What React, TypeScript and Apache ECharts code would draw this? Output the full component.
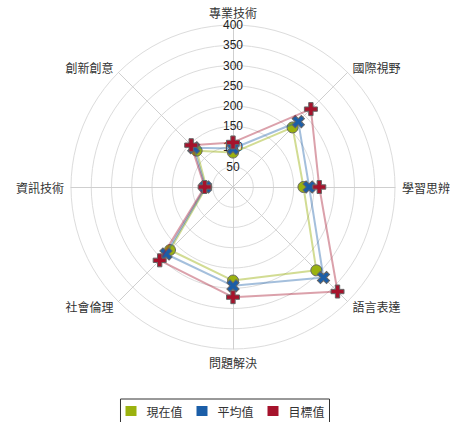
import React, { useEffect, useRef } from 'react';
import * as echarts from 'echarts';

// Indicators listed in ECharts' radar order (top, then counter-clockwise)
const categories = ['專業技術', '創新創意', '資訊技術', '社會倫理', '問題解決', '語言表達', '學習思辨', '國際視野'];
const seriesNames = ['現在值', '平均值', '目標值'];
const currentValues = [85, 127, 66, 220, 231, 291, 174, 208];
const averageValues = [95, 137, 68, 234, 244, 316, 188, 228];
const targetValues = [110, 146, 70, 256, 272, 365, 213, 272];
const radialMax = 400;
const radialSplits = 8;

const colors = ['#9bb20f', '#1b5ea8', '#a6132c'];
const lineColors = ['rgba(155,178,15,0.45)', 'rgba(27,94,168,0.4)', 'rgba(166,19,44,0.4)'];
const plusPath = 'path://M4,0L8,0L8,4L12,4L12,8L8,8L8,12L4,12L4,8L0,8L0,4L4,4Z';
const symbols = ['circle', plusPath, plusPath];
const symbolRotates = [0, 45, 0];
const symbolSizes = [11, 13, 13];

export default function App() {
  const ref = useRef<HTMLDivElement>(null);
  useEffect(() => {
    if (!ref.current) return;
    const chart = echarts.init(ref.current, null, { renderer: 'svg' });
    const allValues = [currentValues, averageValues, targetValues];
    chart.setOption({
      animation: false,
      legend: {
        data: seriesNames,
        left: 'center',
        top: 399,
        padding: [6, 5, 12, 5],
        borderColor: '#333',
        borderWidth: 1,
        icon: 'rect',
        itemWidth: 11,
        itemHeight: 10,
        itemGap: 14,
        itemStyle: { borderWidth: 0 },
        textStyle: { color: '#333', fontSize: 12, fontFamily: 'Noto Sans CJK TC', padding: [0, 0, 0, 5] },
      },
      radar: {
        center: [233, 187],
        radius: 162,
        shape: 'circle',
        splitNumber: radialSplits,
        nameGap: 7,
        axisName: { color: '#333', fontSize: 12, fontFamily: 'Noto Sans CJK TC' },
        splitLine: { lineStyle: { color: '#dcdcdc', width: 1 } },
        splitArea: { show: false },
        axisLine: { lineStyle: { color: '#cfcfcf', width: 1 } },
        axisTick: { show: false },
        axisLabel: {
          show: true,
          margin: 0,
          align: 'center',
          verticalAlign: 'middle',
          color: '#222',
          fontSize: 12,
          fontFamily: 'Liberation Sans, Arial, sans-serif',
          formatter: (v: number) => (v === 0 ? '' : String(v)),
        },
        indicator: categories.map((c, i) => ({
          name: c,
          min: 0,
          max: radialMax,
          ...(i === 0 ? {} : { axisLabel: { show: false } }),
        })),
      },
      series: seriesNames.map((n, i) => ({
        type: 'radar',
        name: n,
        z: 2 + i,
        symbol: symbols[i],
        symbolSize: symbolSizes[i],
        symbolRotate: symbolRotates[i],
        itemStyle: { color: colors[i], borderColor: '#666', borderWidth: 1 },
        lineStyle: { color: lineColors[i], width: 2 },
        areaStyle: undefined,
        data: [{ name: n, value: allValues[i] }],
      })),
    });
    return () => chart.dispose();
  }, []);
  return (
    <div
      ref={ref}
      style={{ position: 'fixed', left: 0, top: 0, width: 450, height: 422, background: '#fff' }}
    />
  );
}
